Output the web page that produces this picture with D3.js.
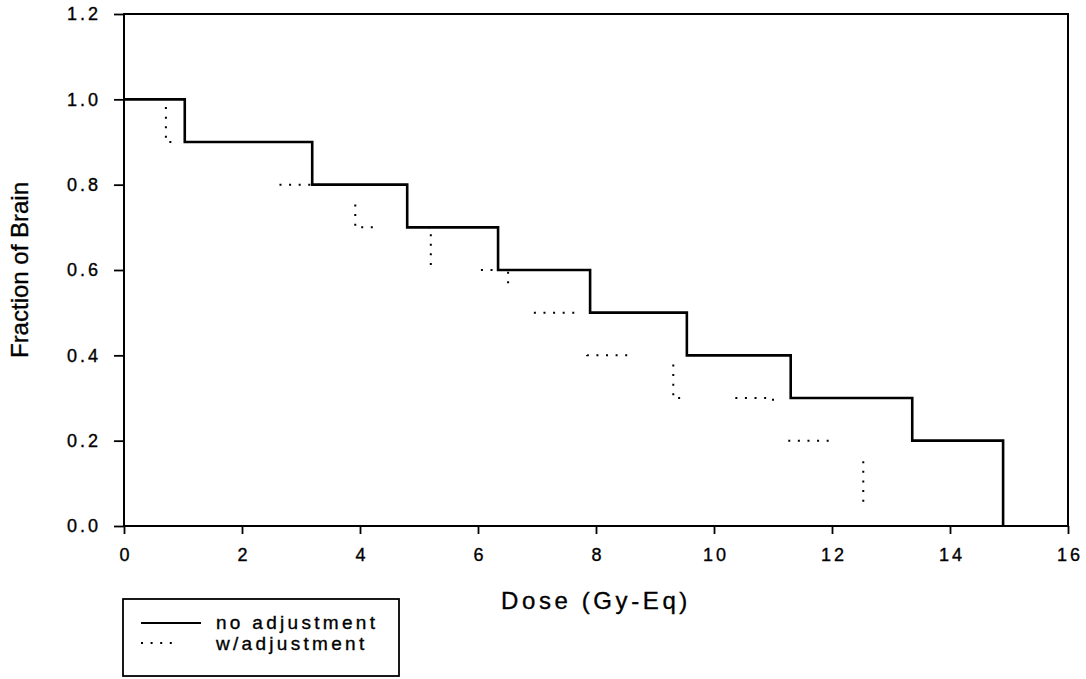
<!DOCTYPE html>
<html>
<head>
<meta charset="utf-8">
<script src="https://cdn.jsdelivr.net/npm/d3@7"></script>
<style>
  body { margin: 0; background: #fff; }
  text { font-family: "Liberation Sans", Arial, Helvetica, sans-serif; fill: #000; stroke: #000; stroke-width: 0.35px; }
</style>
</head>
<body>
<div class="chart"></div>
<script>
// data
var doseNoAdj = [0, 1.03, 3.19, 4.8, 6.34, 7.9, 9.54, 11.3, 13.36, 14.9];
var fracNoAdj = [1.0, 0.9, 0.8, 0.7, 0.6, 0.5, 0.4, 0.3, 0.2, 0.0];
var doseAdj = [0, 0.71, 2.54, 3.92, 5.2, 6.51, 7.85, 9.31, 11.0, 12.53];
var fracAdj = [1.0, 0.9, 0.8, 0.7, 0.6, 0.5, 0.4, 0.3, 0.2, 0.0];
var xTicks = [0, 2, 4, 6, 8, 10, 12, 14, 16];
var yTicks = [0.0, 0.2, 0.4, 0.6, 0.8, 1.0, 1.2];
var seriesNames = ["no adjustment", "w/adjustment"];

var svgWidth = 1086;
var svgHeight = 679;

var margin = {
  top: 14,
  right: 18,
  bottom: 153,
  left: 124
};

var width = svgWidth - margin.left - margin.right;
var height = svgHeight - margin.top - margin.bottom;

var svg = d3.select(".chart")
  .append("svg")
  .attr("width", svgWidth)
  .attr("height", svgHeight);

var chartGroup = svg.append("g")
  .attr("transform", `translate(${margin.left}, ${margin.top})`);

var xScale = d3.scaleLinear().domain([0, 16]).range([0, width]);
var yScale = d3.scaleLinear().domain([0, 1.2]).range([height, 0]);

// axes
var bottomAxis = d3.axisBottom(xScale)
  .tickValues(xTicks)
  .tickFormat(d3.format("d"))
  .tickSizeInner(8)
  .tickSizeOuter(0)
  .tickPadding(14);

var leftAxis = d3.axisLeft(yScale)
  .tickValues(yTicks)
  .tickFormat(d3.format(".1f"))
  .tickSizeInner(10)
  .tickSizeOuter(0)
  .tickPadding(13);

var xAxisG = chartGroup.append("g")
  .attr("transform", `translate(0, ${height})`)
  .call(bottomAxis);

var yAxisG = chartGroup.append("g")
  .call(leftAxis);

[xAxisG, yAxisG].forEach(function(g) {
  g.select(".domain").remove();
  g.selectAll(".tick line").attr("stroke", "#000").attr("stroke-width", 1.8);
  g.selectAll(".tick text")
    .attr("font-size", 18)
    .attr("letter-spacing", "3px")
    .attr("fill", "#000");
});
xAxisG.selectAll(".tick text").attr("dx", "1.5px");

// frame
chartGroup.append("rect")
  .attr("x", 0)
  .attr("y", 0)
  .attr("width", width)
  .attr("height", height)
  .attr("fill", "none")
  .attr("stroke", "#000")
  .attr("stroke-width", 2);

var line = d3.line()
  .x(d => xScale(d[0]))
  .y(d => yScale(d[1]))
  .curve(d3.curveStepAfter);

var adjData = doseAdj.map((d, i) => [d, fracAdj[i]]);
var noAdjData = doseNoAdj.map((d, i) => [d, fracNoAdj[i]]);

// dotted series first so the solid one covers it
chartGroup.append("path")
  .datum(adjData)
  .attr("d", line)
  .attr("fill", "none")
  .attr("stroke", "#000")
  .attr("stroke-width", 2)
  .attr("stroke-dasharray", "2,7.6,2,7.6,2,7.6,2,7.6,2,55.2")
  .attr("stroke-dashoffset", 46);

chartGroup.append("path")
  .datum(noAdjData)
  .attr("d", line)
  .attr("fill", "none")
  .attr("stroke", "#000")
  .attr("stroke-width", 2.6)
  .attr("stroke-linejoin", "miter");

// axis labels
chartGroup.append("text")
  .attr("transform", "rotate(-90)")
  .attr("x", -height / 2)
  .attr("y", -margin.left + 28)
  .attr("text-anchor", "middle")
  .attr("font-size", 24)
  .text("Fraction of Brain");

chartGroup.append("text")
  .attr("x", width / 2)
  .attr("y", height + 83)
  .attr("text-anchor", "middle")
  .attr("font-size", 24)
  .attr("letter-spacing", "3.6px")
  .text("Dose (Gy-Eq)");

// legend
var legend = svg.append("g").attr("transform", "translate(123, 599)");

legend.append("rect")
  .attr("width", 276)
  .attr("height", 77)
  .attr("fill", "none")
  .attr("stroke", "#000")
  .attr("stroke-width", 1.8);

legend.append("line")
  .attr("x1", 18).attr("x2", 78)
  .attr("y1", 24).attr("y2", 24)
  .attr("stroke", "#000")
  .attr("stroke-width", 2);

legend.append("line")
  .attr("x1", 18).attr("x2", 50)
  .attr("y1", 44).attr("y2", 44)
  .attr("stroke", "#000")
  .attr("stroke-width", 2)
  .attr("stroke-dasharray", "2,7.6");

legend.selectAll("text.lab")
  .data(seriesNames)
  .enter()
  .append("text")
  .attr("class", "lab")
  .attr("x", 93)
  .attr("y", (d, i) => 30 + i * 21)
  .attr("font-size", 19)
  .attr("letter-spacing", "3.3px")
  .text(d => d);
</script>
</body>
</html>
